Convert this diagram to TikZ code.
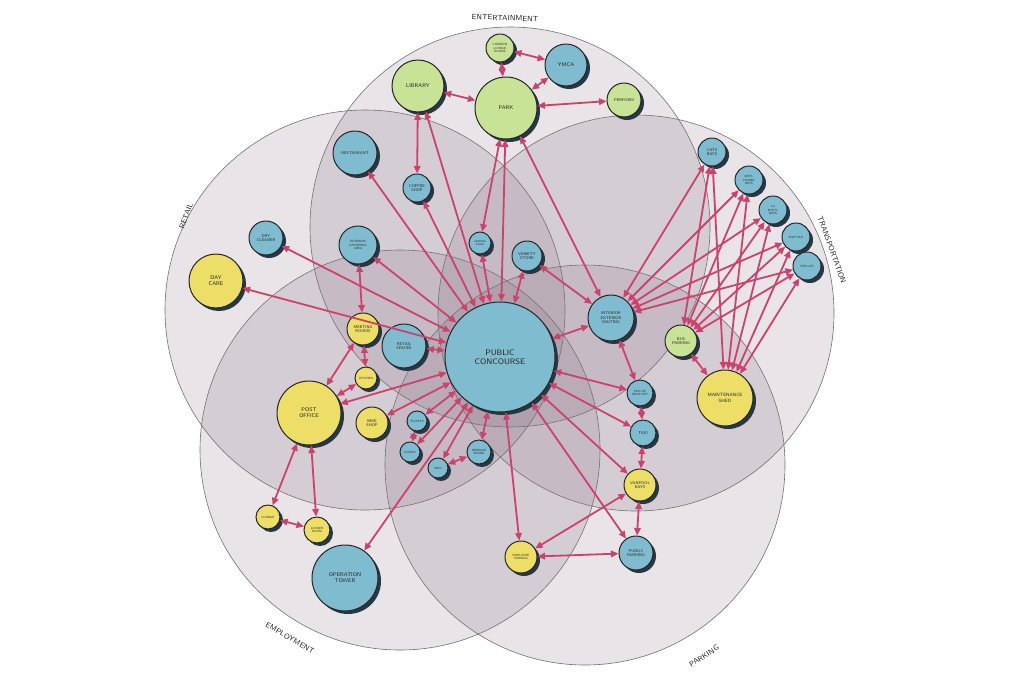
\documentclass[tikz,border=0pt]{standalone}
\usetikzlibrary{shadows,arrows.meta}
\definecolor{ngreen}{RGB}{200,226,150}
\definecolor{nblue}{RGB}{128,188,208}
\definecolor{nyellow}{RGB}{236,222,102}
\definecolor{shd}{RGB}{38,56,70}
\definecolor{lk}{RGB}{205,66,108}
\definecolor{zonec}{RGB}{132,106,126}
\tikzset{
 bubble/.style={circle, draw=black!85, line width=1pt, inner sep=0pt, align=center,
   font=\sffamily\fontsize{4}{4.5}\selectfont, text=black!85,
   drop shadow={shadow xshift=3pt, shadow yshift=-3pt, fill=shd, opacity=1}},
 gb/.style={bubble, fill=ngreen},
 bb/.style={bubble, fill=nblue},
 yb/.style={bubble, fill=nyellow},
 big/.style={font=\sffamily\fontsize{5.4}{6}\selectfont},
 tiny/.style={font=\sffamily\fontsize{3}{3.4}\selectfont},
 link/.style={draw=lk, line width=1.8pt, {Triangle[length=7.5pt,width=6.5pt]}-{Triangle[length=7.5pt,width=6.5pt]}},
 zone/.style={draw=black!55, line width=0.6pt, fill=zonec, fill opacity=0.18},
 zlabel/.style={font=\sffamily\fontsize{7.5}{8}\selectfont, text=black!85}
}
\begin{document}
\begin{tikzpicture}[x=1pt,y=-1pt]
\useasboundingbox (0,0) rectangle (1024,683);
\fill[white] (0,0) rectangle (1024,683);
% zones
\draw[zone] (510,227) circle[radius=200pt];
\draw[zone] (365,310) circle[radius=200pt];
\draw[zone] (636,313) circle[radius=198pt];
\draw[zone] (400,450) circle[radius=200pt];
\draw[zone] (585,465) circle[radius=200pt];
\node[zlabel, rotate=-2] (lent) at (505,18) {ENTERTAINMENT};
\node[zlabel, rotate=70] (lret) at (186,216) {RETAIL};
\node[zlabel, rotate=-70] (ltra) at (832,250) {TRANSPORTATION};
\node[zlabel, rotate=-30] (lemp) at (290,638) {EMPLOYMENT};
\node[zlabel, rotate=33] (lpar) at (704,656) {PARKING};
% entertainment
\node[gb, minimum size=28, tiny] (lounge) at (500,48) {COMMON\\LOUNGE\\ROOMS};
\node[bb, minimum size=42, big] (ymca) at (566,65) {YMCA};
\node[gb, minimum size=52, big] (library) at (418,86) {LIBRARY};
\node[gb, minimum size=62, big] (park) at (506,108) {PARK};
\node[gb, minimum size=34] (perform) at (624,100) {PERFORM};
% retail
\node[bb, minimum size=44] (restaurant) at (355,153) {RESTAURANT};
\node[bb, minimum size=28] (coffee) at (417,188) {COFFEE\\SHOP};
\node[bb, minimum size=34] (cleaner) at (266,238) {DRY\\CLEANER};
\node[bb, minimum size=38, tiny] (gather) at (358,245) {EXTERIOR\\GATHERING\\AREA};
\node[yb, minimum size=54, big] (daycare) at (216,281) {DAY\\CARE};
\node[bb, minimum size=44] (retail) at (404,346) {RETAIL\\SPACES};
\node[bb, minimum size=22, font=\sffamily\fontsize{2.6}{3}\selectfont] (vending) at (480,243) {VENDING\\KIOSK};
\node[bb, minimum size=30] (store) at (527,256) {VARIETY\\STORE};
% center
\node[bb, minimum size=110, font=\sffamily\fontsize{8}{9}\selectfont] (concourse) at (500,357) {PUBLIC\\CONCOURSE};
% employment
\node[yb, minimum size=32] (meeting) at (363,329) {MEETING\\ROOMS};
\node[yb, minimum size=22, tiny] (kitchen) at (366,378) {KITCHEN};
\node[yb, minimum size=64, big] (post) at (309,413) {POST\\OFFICE};
\node[yb, minimum size=32] (bike) at (372,423) {BIKE\\SHOP};
\node[yb, minimum size=24, tiny] (lng) at (268,517) {LOUNGE};
\node[yb, minimum size=26, tiny] (locker) at (317,530) {LOCKER\\ROOM};
\node[bb, minimum size=66, big] (tower) at (345,578) {OPERATION\\TOWER};
\node[bb, minimum size=20, tiny] (tickets) at (417,421) {TICKETS};
\node[bb, minimum size=20, tiny] (kiosks) at (410,452) {KIOSKS};
\node[bb, minimum size=20, tiny] (info) at (438,468) {INFO};
\node[bb, minimum size=24, tiny] (message) at (479,452) {MESSAGE\\BOARD};
% transportation
\node[bb, minimum size=28] (cats) at (712,152) {CATS\\BAYS};
\node[bb, minimum size=28, tiny] (grey) at (749,180) {GREY-\\HOUND\\BAYS};
\node[bb, minimum size=28, tiny] (lashut) at (773,210) {LA\\SHUTL\\BAYS};
\node[bb, minimum size=28, tiny] (shuttle) at (796,237) {SHUTTLE};
\node[bb, minimum size=28, tiny] (trolley) at (807,266) {TROLLEY};
\node[bb, minimum size=46] (waiting) at (611,318) {INTERIOR\\EXTERIOR\\WAITING};
\node[gb, minimum size=32] (bus) at (681,341) {BUS\\PARKING};
\node[yb, minimum size=56, font=\sffamily\fontsize{4.6}{5.2}\selectfont] (shed) at (725,398) {MAINTENANCE\\SHED};
% parking
\node[bb, minimum size=26, tiny] (pickup) at (640,393) {PICK-UP\\DROP-OFF};
\node[bb, minimum size=26] (taxi) at (643,433) {TAXI};
\node[yb, minimum size=32] (vanpool) at (640,485) {VANPOOL\\BAYS};
\node[yb, minimum size=32, tiny] (emp) at (521,557) {EMPLOYEE\\PARKING};
\node[bb, minimum size=34] (pub) at (636,553) {PUBLIC\\PARKING};
% links: entertainment
\draw[link] (lounge) -- (ymca);
\draw[link] (lounge) -- (park);
\draw[link] (ymca) -- (park);
\draw[link] (library) -- (park);
\draw[link] (park) -- (perform);
\draw[link] (library) -- (coffee);
\draw[link] (library) -- (concourse);
\draw[link] (park) -- (vending);
\draw[link] (park) -- (concourse);
\draw[link] (park) -- (waiting);
% retail
\draw[link] (restaurant) -- (concourse);
\draw[link] (coffee) -- (concourse);
\draw[link] (cleaner) -- (concourse);
\draw[link] (daycare) -- (concourse);
\draw[link] (gather) -- (concourse);
\draw[link] (gather) -- (meeting);
\draw[link] (retail) -- (concourse);
\draw[link] (vending) -- (concourse);
\draw[link] (store) -- (concourse);
\draw[link] (store) -- (waiting);
% transportation
\draw[link] (waiting) -- (concourse);
\draw[link] (waiting) -- (pickup);
\foreach \t in {cats,grey,lashut,shuttle,trolley}{
  \draw[link] (waiting) -- (\t);
  \draw[link] (bus) -- (\t);
  \draw[link] (shed) -- (\t);
}
\draw[link] (bus) -- (shed);
% employment
\draw[link] (meeting) -- (post);
\draw[link] (meeting) -- (kitchen);
\draw[link] (kitchen) -- (post);
\draw[link] (post) -- (concourse);
\draw[link] (bike) -- (concourse);
\draw[link] (post) -- (lng);
\draw[link] (post) -- (locker);
\draw[link] (lng) -- (locker);
\draw[link] (tower) -- (concourse);
\draw[link] (tickets) -- (concourse);
\draw[link] (tickets) -- (kiosks);
\draw[link] (kiosks) -- (concourse);
\draw[link] (info) -- (concourse);
\draw[link] (info) -- (message);
\draw[link] (message) -- (concourse);
% parking
\draw[link] (concourse) -- (pickup);
\draw[link] (concourse) -- (taxi);
\draw[link] (concourse) -- (vanpool);
\draw[link] (concourse) -- (emp);
\draw[link] (concourse) -- (pub);
\draw[link] (pickup) -- (taxi);
\draw[link] (taxi) -- (vanpool);
\draw[link] (vanpool) -- (pub);
\draw[link] (vanpool) -- (emp);
\draw[link] (emp) -- (pub);
\end{tikzpicture}
\end{document}
